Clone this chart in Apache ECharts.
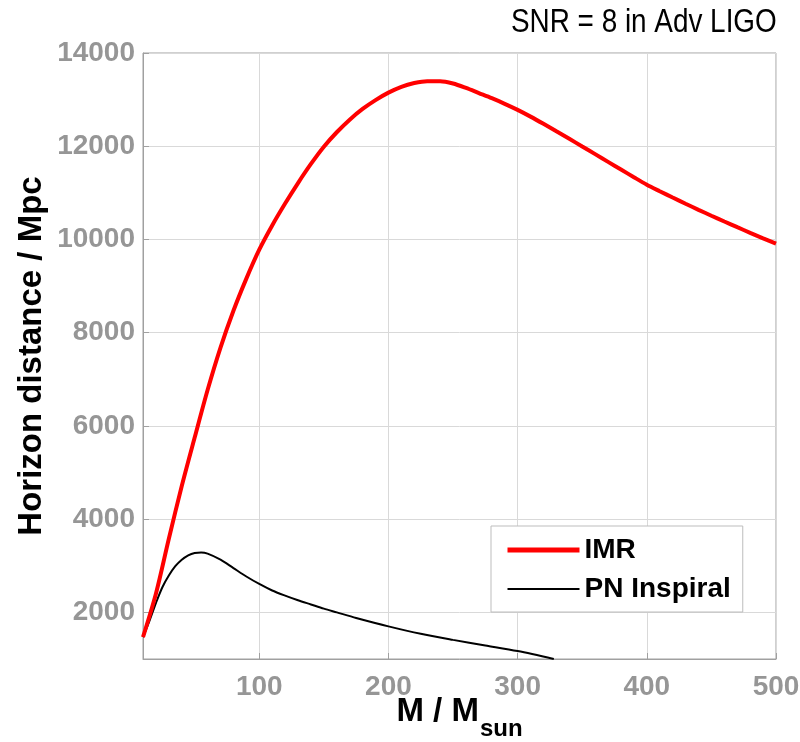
<!DOCTYPE html>
<html>
<head>
<meta charset="utf-8">
<script src="https://cdn.jsdelivr.net/npm/echarts@6/dist/echarts.min.js"></script>
<style>
html,body{margin:0;padding:0;background:#fff;}
#chart{width:800px;height:742px;}
</style>
</head>
<body>
<div id="chart"></div>
<script>
// ---- data ----
const titleText = 'SNR = 8 in Adv LIGO';
const seriesNames = ['IMR', 'PN Inspiral'];

const massIMR    = [10, 20, 30, 40, 50, 60, 70, 80, 90, 100, 110, 120, 130, 140, 150, 160, 170, 180, 190, 200, 210, 220, 230, 240, 250, 260, 270, 280, 290, 300, 310, 320, 330, 340, 350, 360, 370, 380, 390, 400, 410, 420, 430, 440, 450, 460, 470, 480, 490, 500];
const horizonIMR = [1470, 2400, 3580, 4710, 5750, 6770, 7680, 8470, 9160, 9780, 10300, 10770, 11210, 11620, 11990, 12300, 12570, 12800, 12990, 13150, 13275, 13355, 13395, 13395, 13345, 13250, 13140, 13030, 12910, 12780, 12635, 12480, 12320, 12160, 11995, 11830, 11665, 11500, 11335, 11175, 11035, 10899, 10766, 10636, 10509, 10385, 10263, 10143, 10025, 9909];

const massPN    = [10, 15, 20, 25, 30, 35, 40, 45, 50, 55, 60, 70, 80, 90, 100, 110, 120, 130, 140, 150, 160, 175, 200, 225, 250, 275, 300, 328];
const horizonPN = [1470, 1820, 2200, 2540, 2790, 2990, 3130, 3225, 3275, 3285, 3260, 3130, 2950, 2770, 2610, 2470, 2360, 2260, 2170, 2080, 2000, 1880, 1700, 1540, 1410, 1290, 1170, 1000];

const xMin = 10, xMax = 500;
const yMin = 1000, yMax = 14000;

function pairs(xs, ys) { return xs.map((x, i) => [x, ys[i]]); }

const chart = echarts.init(document.getElementById('chart'), null, { renderer: 'canvas' });
const FONT = 'Liberation Sans, Arial, Helvetica, sans-serif';
const tickFont = { fontFamily: FONT, fontWeight: 'bold', fontSize: 28, color: '#969696', formatter: v => String(v) };

chart.setOption({
  animation: false,
  backgroundColor: '#ffffff',
  graphic: [{
    type: 'text', left: 511, top: 6, scaleX: 0.82, z: 10,
    style: { text: titleText, font: 'normal 34px ' + FONT, fill: '#000' }
  }],
  grid: {
    left: 143, right: 24, top: 53, bottom: 83,
    containLabel: false, outerBoundsMode: 'none',
    show: true, borderColor: '#a0a0a0', borderWidth: 1, backgroundColor: 'transparent'
  },
  legend: {
    data: [
      { name: seriesNames[0], lineStyle: { width: 5, color: '#ff0000' } },
      { name: seriesNames[1], lineStyle: { width: 2, color: '#000000' } }
    ],
    orient: 'vertical',
    left: 491, top: 526,
    padding: [10, 12, 9, 14],
    itemGap: 11,
    itemWidth: 72, itemHeight: 28,
    itemStyle: { opacity: 0 },
    backgroundColor: '#fff',
    borderColor: '#bdbdbd', borderWidth: 1,
    textStyle: { fontFamily: FONT, fontWeight: 'bold', fontSize: 28, color: '#000', lineHeight: 28 }
  },
  xAxis: {
    type: 'value', min: xMin, max: xMax, splitNumber: 5,
    name: '{a|M / M}{b|sun}',
    nameLocation: 'middle', nameGap: 36, nameMoveOverlap: false,
    nameTextStyle: {
      rich: {
        a: { fontFamily: FONT, fontWeight: 'bold', fontSize: 33, color: '#000', verticalAlign: 'top', lineHeight: 36 },
        b: { fontFamily: FONT, fontWeight: 'bold', fontSize: 24, color: '#000', verticalAlign: 'top', padding: [22, 0, 0, 1], lineHeight: 26 }
      }
    },
    axisLine: { show: true, lineStyle: { color: '#a0a0a0', width: 1 } },
    axisTick: { show: true, inside: true, length: 6, lineStyle: { color: '#a0a0a0' } },
    axisLabel: Object.assign({ margin: 14, showMinLabel: false }, tickFont),
    splitLine: { show: true, lineStyle: { color: '#d9d9d9', width: 1 } }
  },
  yAxis: {
    type: 'value', min: yMin, max: yMax, splitNumber: 6,
    name: 'Horizon distance / Mpc',
    nameLocation: 'middle', nameGap: 95, nameMoveOverlap: false,
    nameTextStyle: { fontFamily: FONT, fontWeight: 'bold', fontSize: 33, color: '#000' },
    axisLine: { show: true, lineStyle: { color: '#a0a0a0', width: 1 } },
    axisTick: { show: true, inside: true, length: 6, lineStyle: { color: '#a0a0a0' } },
    axisLabel: Object.assign({ margin: 8, showMinLabel: false }, tickFont),
    splitLine: { show: true, lineStyle: { color: '#d9d9d9', width: 1 } }
  },
  series: [
    {
      name: seriesNames[0], type: 'line', data: pairs(massIMR, horizonIMR),
      symbol: 'none', smooth: 0.3, clip: true,
      lineStyle: { color: '#ff0000', width: 4 }, itemStyle: { color: '#ff0000' }, z: 3
    },
    {
      name: seriesNames[1], type: 'line', data: pairs(massPN, horizonPN),
      symbol: 'none', smooth: 0.3, clip: true,
      lineStyle: { color: '#000000', width: 2 }, itemStyle: { color: '#000000' }, z: 2
    }
  ]
});
</script>
</body>
</html>
